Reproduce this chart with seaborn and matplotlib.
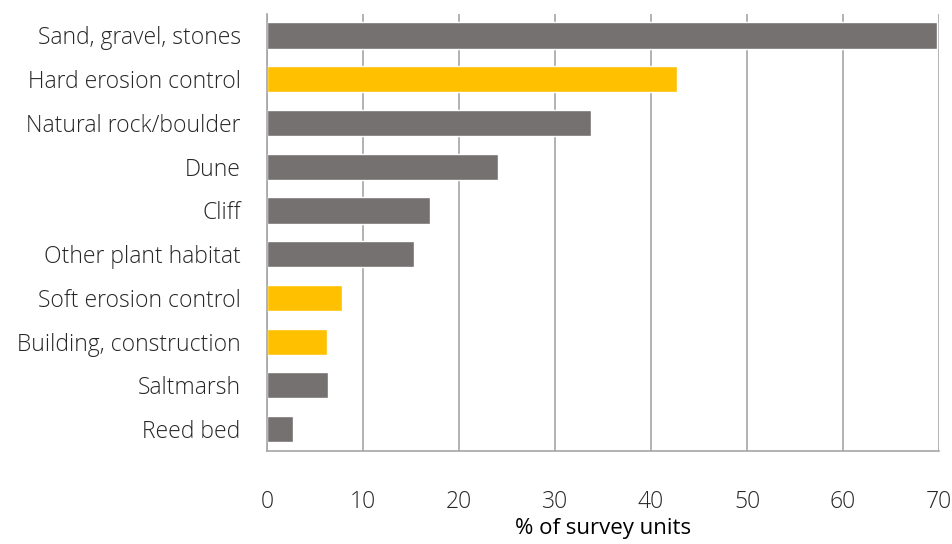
import matplotlib
matplotlib.use("Agg")
import matplotlib.pyplot as plt
import seaborn as sns
import pandas as pd

categories = ["Sand, gravel, stones", "Hard erosion control", "Natural rock/boulder",
              "Dune", "Cliff", "Other plant habitat", "Soft erosion control",
              "Building, construction", "Saltmarsh", "Reed bed"]
values = [69.8, 42.7, 33.8, 24.1, 17.0, 15.3, 7.8, 6.2, 6.4, 2.7]
groups = ["natural", "human", "natural", "natural", "natural", "natural",
          "human", "human", "natural", "natural"]
x_ticks = [0, 10, 20, 30, 40, 50, 60, 70]
x_label = "% of survey units"

sns.set_style("white")
plt.rcParams['font.family'] = ['Open Sans', 'DejaVu Sans']

df = pd.DataFrame({"category": categories, "value": values, "group": groups})
palette = {"natural": "#767171", "human": "#FFC000"}

fig = plt.figure(figsize=(9.52, 5.44), dpi=100)
ax = fig.add_axes([0.2805, 0.171, 0.7058, 0.804])
sns.barplot(data=df, x="value", y="category", hue="group", palette=palette,
            orient="h", width=0.6, dodge=False, legend=False, saturation=1, ax=ax)

ax.set_xlim(0, 70)
ax.set_ylim(len(categories) - 0.5, -0.5)
ax.set_xticks(x_ticks)
ax.set_xticklabels([str(t) for t in x_ticks], fontsize=16.5, fontweight="light", color="#262626")
ax.xaxis.grid(True, color="#A6A6A6", linewidth=1.2)
ax.set_axisbelow(True)

# y ticks at category boundaries
ax.set_yticks(range(len(categories)))
ax.set_yticklabels(categories, fontsize=16.5, fontweight="light", color="#262626")
ax.tick_params(axis="y", length=0, pad=19)
ax.set_yticks([i - 0.5 for i in range(len(categories) + 1)], minor=True)
ax.tick_params(axis="y", which="minor", length=8, color="#A6A6A6", width=1.2)
ax.tick_params(axis="x", length=8, color="#A6A6A6", width=1.2, pad=20)

for s in ["top", "right"]:
    ax.spines[s].set_visible(False)
for s in ["left", "bottom"]:
    ax.spines[s].set_color("#A6A6A6")
    ax.spines[s].set_linewidth(1.2)

ax.set_ylabel("")
ax.set_xlabel(x_label, fontsize=16, color="#000000", labelpad=3)

fig.savefig("out.png", dpi=100)
